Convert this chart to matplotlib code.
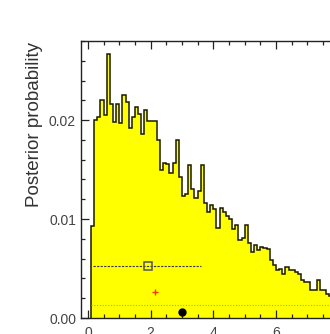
import numpy as np
import matplotlib
matplotlib.use('Agg')
import matplotlib.pyplot as plt
from matplotlib.ticker import MultipleLocator, FixedFormatter, FixedLocator

plt.rcParams['font.family'] = ['Liberation Sans', 'DejaVu Sans']

# histogram, bins of 0.1 starting at 0.1
first_edge = 0.1
bin_width = 0.1
posterior = [
    0.0093, 0.0200, 0.0203, 0.0220, 0.0205, 0.0267, 0.0216, 0.0198, 0.0216, 0.0197,
    0.0225, 0.0218, 0.0192, 0.0203, 0.0213, 0.0206, 0.0186, 0.0210, 0.0199, 0.0199,
    0.0199, 0.0180, 0.0150, 0.0157, 0.0156, 0.0147, 0.0157, 0.0180, 0.0143, 0.0123,
    0.0125, 0.0155, 0.0130, 0.0121, 0.0128, 0.0155, 0.0116, 0.0107, 0.0114, 0.0110,
    0.0091, 0.0111, 0.0107, 0.0103, 0.0100, 0.0090, 0.0094, 0.0079, 0.0081, 0.0094,
    0.0076, 0.0067, 0.0074, 0.0069, 0.0072, 0.0071, 0.0070, 0.0059, 0.0054, 0.0049,
    0.0050, 0.0044, 0.0052, 0.0049, 0.0049, 0.0047, 0.0044, 0.0038, 0.0036, 0.0036,
    0.0028, 0.0028, 0.0038, 0.0028, 0.0028, 0.0024, 0.0022, 0.0020, 0.0021, 0.0018,
    0.0017, 0.0016, 0.0015, 0.0014,
]
edges = first_edge + bin_width * np.arange(len(posterior) + 1)

# interval (dashed) with its open-square marker
interval_x = [0.15, 3.6]
interval_y = 0.0053
square_x = 1.91
cross_x, cross_y = 2.14, 0.0026
dot_x, dot_y = 3.01, 0.0006
green_level = 0.00129

fig = plt.figure(figsize=(3.3, 3.34), dpi=100)
xmin, xmax = -0.22, 8.5
px_per_unit = 31.35
ax = fig.add_axes([81/330, 16/334, (xmax - xmin)*px_per_unit/330, 277/334])

ax.stairs(posterior, edges, baseline=0, fill=True, color='#ffff00', zorder=1)
ax.stairs(posterior, edges, baseline=0, fill=False, color='#1a1a00', lw=1.1, zorder=2)

ax.plot([edges[0], edges[-1]], [green_level, green_level], color='#66dd00',
        lw=0.8, linestyle=(0, (1, 1.5)), zorder=3)
ax.plot(interval_x, [interval_y, interval_y], color='#333333', lw=0.8,
        linestyle=(0, (2, 1.2)), zorder=3)
ax.plot([square_x], [interval_y], marker='s', ms=6, mfc='none', mec='#555555',
        mew=1.1, zorder=4)
ax.plot([cross_x], [cross_y], marker='+', ms=5, color='#ff3300', mew=1.0, zorder=4)
ax.plot([dot_x], [dot_y], marker='o', ms=5, color='black', zorder=4)

ax.set_xlim(xmin, xmax)
ax.set_ylim(0, 0.028)

ax.xaxis.set_major_locator(FixedLocator([0, 2, 4, 6, 8]))
ax.xaxis.set_minor_locator(MultipleLocator(0.5))
ax.yaxis.set_major_locator(FixedLocator([0, 0.01, 0.02]))
ax.yaxis.set_major_formatter(FixedFormatter(['0.00', '0.01', '0.02']))
ax.yaxis.set_minor_locator(MultipleLocator(0.002))

ax.tick_params(axis='both', which='both', direction='in', top=True, right=False,
               colors='#222222', labelcolor='#444444', labelsize=10)
ax.tick_params(axis='both', which='major', length=5.8, width=0.9)
ax.tick_params(axis='both', which='minor', length=3.0, width=0.9)
ax.tick_params(axis='x', pad=5.8)
ax.tick_params(axis='y', pad=3.6)

for s in ['left', 'bottom', 'top']:
    ax.spines[s].set_linewidth(1.0)
    ax.spines[s].set_color('#222222')
ax.spines['right'].set_visible(False)

fig.text(35/330, 1 - 42/334, 'Posterior probability', rotation=90, ha='center',
         va='top', fontsize=13.5, color='#333333')

fig.savefig('out.png', dpi=100)
